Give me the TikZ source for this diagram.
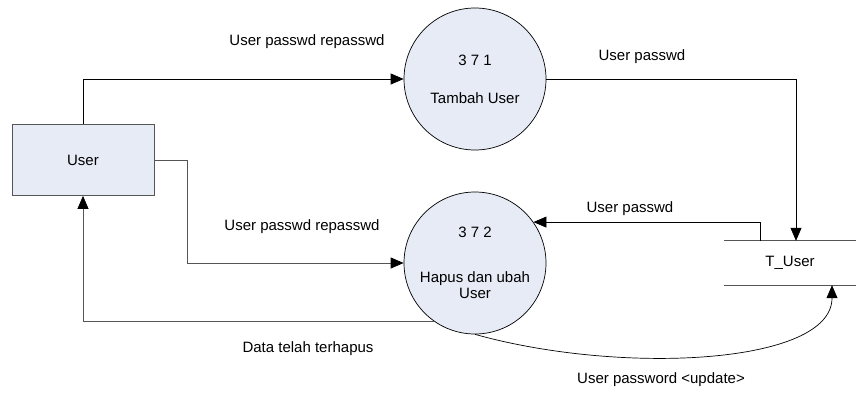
\documentclass[tikz,border=0pt]{standalone}
\usepackage{fontspec}
\setmainfont{Liberation Sans}
\usetikzlibrary{arrows.meta}
\definecolor{procfill}{RGB}{230,235,246}
\definecolor{linegray}{RGB}{85,85,85}

\begin{document}
\begin{tikzpicture}[x=1pt, y=-1pt,
  font=\fontsize{15}{16}\selectfont,
  flow/.style={-{Triangle[length=13pt,width=11pt,color=black]}, line width=0.7pt},
  proc/.style={circle, draw, line width=0.7pt, fill=procfill,
    minimum size=142pt, inner sep=0pt, align=center},
  entity/.style={draw=linegray, line width=0.8pt, fill=procfill,
    minimum width=142pt, minimum height=71pt},
  store/.style={minimum width=132pt, minimum height=44pt},
  storeline/.style={draw=linegray, line width=0.9pt}]
  \useasboundingbox (0,0) rectangle (856,396);
  % Define nodes
  \node[entity] (user)   at (83,160)  {User};
  \node[proc]   (tambah) at (475,79)  {3 7 1\\[22pt]Tambah User};
  \node[proc]   (hapus)  at (475,263) {3 7 2\\[29pt]Hapus dan ubah\\User};
  \node[store]  (tuser)  at (790,263) {T\_User};
  \draw[storeline] (tuser.north west) -- (tuser.north east);
  \draw[storeline] (tuser.south west) -- (tuser.south east);
  % Labels
  \node (lbl1) at (307,42)  {User passwd repasswd};
  \node (lbl2) at (642,57)  {User passwd};
  \node (lbl3) at (630,209) {User passwd};
  \node (lbl4) at (302,227) {User passwd repasswd};
  \node (lbl5) at (308,349) {Data telah terhapus};
  \node (lbl6) at (661,380) {User password <update>};
  % Connect nodes
  \draw[flow] (user.north) |- (tambah.west);
  \draw[flow] (tambah.east) -| ([xshift=6pt]tuser.north);
  \draw[flow] ([xshift=-30pt]tuser.north) |- (hapus.35);
  \draw[flow, draw=linegray] (user.east) -- ++(33,0) |- (hapus.west);
  \draw[flow, draw=linegray] (hapus.235) -| (user.south);
  \draw[flow] (hapus.south) .. controls (620,375) and (832,365) .. ([xshift=42pt]tuser.south);
\end{tikzpicture}
\end{document}
